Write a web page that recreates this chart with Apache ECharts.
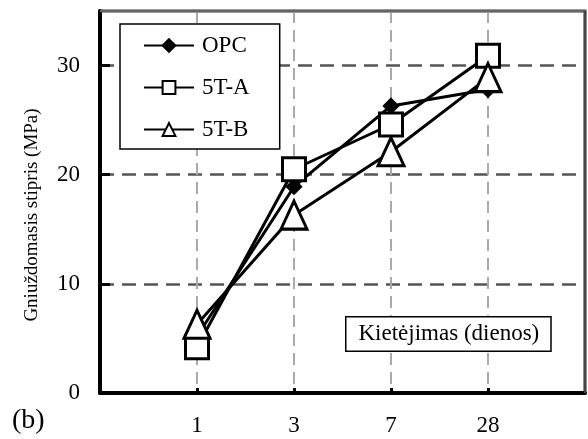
<!DOCTYPE html>
<html>
<head>
<meta charset="utf-8">
<script src="https://cdn.jsdelivr.net/npm/echarts@6/dist/echarts.min.js"></script>
<style>
  html, body { margin: 0; padding: 0; background: #fff; }
  #chart { width: 588px; height: 439px; }
</style>
</head>
<body>
<div id="chart"></div>
<script>
// Curing age (days) and compressive strength (MPa) of each mix
const days = ['1', '3', '7', '28'];
const opc = [5.2, 18.9, 26.3, 27.8];
const t5a = [4.2, 20.5, 24.6, 30.9];
const t5b = [6.3, 16.3, 22.1, 28.9];
const yTicks = [0, 10, 20, 30];
const yMax = 35;

const FONT = '"Liberation Serif", "Times New Roman", serif';

// one empty slot on each side so the ages sit away from the frame
const axisCats = [''].concat(days, ['']);
const pad = arr => [null].concat(arr, [null]);

const chart = echarts.init(document.getElementById('chart'), null, { renderer: 'canvas' });

const lineSeries = (name, values, symbol, size, fill) => ({
  name: name,
  type: 'line',
  data: pad(values),
  symbol: symbol,
  symbolSize: size,
  showAllSymbol: true,
  lineStyle: { color: '#000', width: 3 },
  itemStyle: { color: fill, borderColor: '#000', borderWidth: 3 },
  emphasis: { disabled: true },
  z: 3
});

chart.setOption({
  animation: false,
  textStyle: { fontFamily: FONT, color: '#000' },
  grid: {
    left: 100, right: 2, top: 11, bottom: 46, containLabel: false,
    show: true, borderColor: '#555', borderWidth: 3
  },
  legend: {
    orient: 'vertical',
    left: 120,
    top: 24,
    itemWidth: 50,
    itemHeight: 16,
    itemGap: 19,
    padding: [10, 30, 8, 23],
    backgroundColor: '#fff',
    borderColor: '#000',
    borderWidth: 1.5,
    borderRadius: 0,
    textStyle: { fontFamily: FONT, fontSize: 23, color: '#000', padding: [0, 0, 0, 3] },
    data: ['OPC', '5T-A', '5T-B']
  },
  xAxis: {
    type: 'category',
    data: axisCats,
    boundaryGap: false,
    axisLine: { lineStyle: { color: '#000', width: 4 } },
    axisTick: {
      inside: true, length: 5,
      interval: (i, v) => v !== '',
      lineStyle: { color: '#000', width: 3 }
    },
    axisLabel: { fontFamily: FONT, fontSize: 23, color: '#000', margin: 21, interval: 0 },
    splitLine: {
      show: true,
      showMinLine: false,
      showMaxLine: false,
      lineStyle: { color: '#aaa', width: 2, type: [12, 7] }
    }
  },
  yAxis: {
    type: 'value',
    min: 0,
    max: yMax,
    interval: 10,
    name: 'Gniuždomasis stipris (MPa)',
    nameLocation: 'middle',
    nameGap: 58,
    nameTextStyle: { fontFamily: FONT, fontSize: 19, color: '#000', padding: [0, 26, 0, 0] },
    axisLine: { show: true, onZero: false, lineStyle: { color: '#000', width: 4 } },
    axisTick: {
      show: true, inside: true, length: 10,
      customValues: yTicks,
      lineStyle: { color: '#000', width: 3 }
    },
    axisLabel: { fontFamily: FONT, fontSize: 23, color: '#000', margin: 20, customValues: yTicks },
    splitLine: {
      show: true,
      showMinLine: false,
      showMaxLine: true,
      lineStyle: { color: '#555', width: 2.5, type: [14, 8] }
    }
  },
  graphic: [{
    type: 'text',
    id: 'age-title',
    left: 345,
    top: 316,
    z: 10,
    style: {
      text: 'Kietėjimas (dienos)',
      font: '23px ' + FONT,
      fill: '#000',
      backgroundColor: '#fff',
      borderColor: '#000',
      borderWidth: 1.5,
      padding: [5, 11, 5, 12]
    }
  }, {
    type: 'text',
    id: 'panel-tag',
    left: 12,
    top: 407,
    style: { text: '(b)', font: '28px ' + FONT, fill: '#000' }
  }],
  series: [
    lineSeries('OPC', opc, 'diamond', 13, '#000'),
    lineSeries('5T-A', t5a, 'rect', 23, '#fff'),
    lineSeries('5T-B', t5b, 'triangle', [26, 28], '#fff')
  ]
});

// top and right edges of the plot frame, placed through the axes' own scales
const last = axisCats.length - 1;
const tl = chart.convertToPixel({ gridIndex: 0 }, [0, yMax]);
const tr = chart.convertToPixel({ gridIndex: 0 }, [last, yMax]);
const br = chart.convertToPixel({ gridIndex: 0 }, [last, 0]);
chart.setOption({
  graphic: [{
    type: 'polyline',
    id: 'frame-top',
    z: 100,
    shape: { points: [tl, tr] },
    style: { stroke: '#666', lineWidth: 2.5, fill: null }
  }, {
    type: 'polyline',
    id: 'frame-right',
    z: 100,
    shape: { points: [tr, br] },
    style: { stroke: '#444', lineWidth: 2.5, fill: null }
  }]
});
</script>
</body>
</html>
